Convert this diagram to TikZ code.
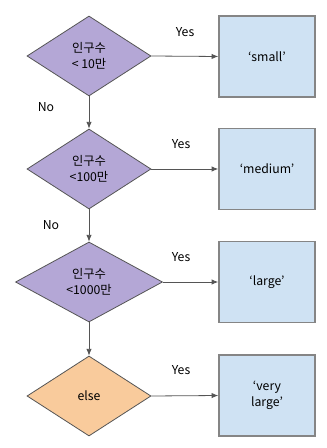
\documentclass[tikz,border=0pt]{standalone}
\usepackage{fontspec}
\setmainfont{Noto Sans CJK KR}
\usetikzlibrary{shapes.geometric,arrows.meta}
\definecolor{purp}{HTML}{B4A7D6}
\definecolor{oran}{HTML}{F9CB9C}
\definecolor{blu}{HTML}{CFE2F3}
\definecolor{edge}{HTML}{555555}
\definecolor{boxedge}{HTML}{858585}
\tikzset{
  dec/.style={diamond, draw=edge, line width=0.6pt, inner sep=0pt, fill=purp, minimum width=124*0.75pt, minimum height=80*0.75pt, align=center, font=\fontsize{9.2}{11.8}\selectfont},
  outbox/.style={rectangle, draw=boxedge, line width=1.1pt, fill=blu, minimum width=96*0.75pt, minimum height=81*0.75pt, align=center, font=\fontsize{9.2}{11.8}\selectfont},
  lbl/.style={font=\fontsize{9.2}{11}\selectfont, inner sep=0pt},
  conn/.style={draw=edge, line width=0.6pt, -{Latex[length=5pt,width=4pt]}}
}
\begin{document}
\begin{tikzpicture}[x=0.75pt,y=-0.75pt]
\useasboundingbox[fill=white] (0,0) rectangle (326,448);
\node[dec] (d1) at (89,56) {인구수\\< 10만};
\node[dec] (d2) at (89,169) {인구수\\<100만};
\node[dec, minimum width=147*0.75pt] (d3) at (89,282) {인구수\\<1000만};
\node[dec, fill=oran] (d4) at (89,396) {else};
\node[outbox] (b1) at (267,56.5) {‘small’};
\node[outbox] (b2) at (267,169) {‘medium’};
\node[outbox] (b3) at (267,282) {‘large’};
\node[outbox] (b4) at (267,395.5) {‘very\\large’};
\draw[conn] (d1.east) -- (b1.west);
\draw[conn] (d2.east) -- (b2.west);
\draw[conn] (d3.east) -- (b3.west);
\draw[conn] (d4.east) -- (b4.west);
\draw[conn] (d1.south) -- (d2.north);
\draw[conn] (d2.south) -- (d3.north);
\draw[conn] (d3.south) -- (d4.north);
\node[lbl] (y1) at (185,32) {Yes};
\node[lbl] (y2) at (181,144) {Yes};
\node[lbl] (y3) at (181,257) {Yes};
\node[lbl] (y4) at (181,370) {Yes};
\node[lbl] (n1) at (46,107) {No};
\node[lbl] (n2) at (51,225) {No};
\end{tikzpicture}
\end{document}
